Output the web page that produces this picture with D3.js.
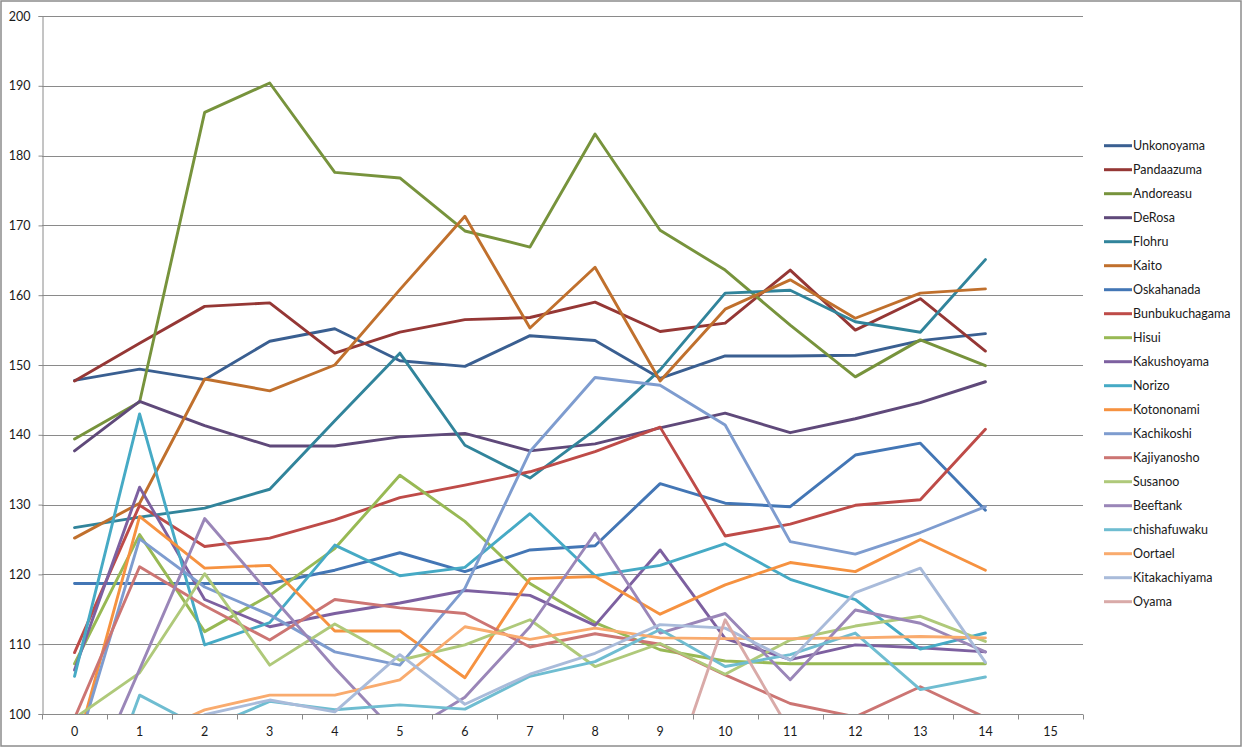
<!DOCTYPE html>
<html>
<head>
<meta charset="utf-8">
<script src="https://cdn.jsdelivr.net/npm/d3@7"></script>
<style>
html, body { margin: 0; padding: 0; background: #fff; }
svg { display: block; }
text { font-family: Lato, "Open Sans", "Liberation Sans", sans-serif; fill: #1a1a1a; }
</style>
</head>
<body>
<svg id="chart" width="1244" height="748"></svg>
<script>
// ---- data ----
const categories = ["0","1","2","3","4","5","6","7","8","9","10","11","12","13","14","15"];
const yTicks = [100,110,120,130,140,150,160,170,180,190,200];
const seriesNames = ["Unkonoyama","Pandaazuma","Andoreasu","DeRosa","Flohru","Kaito","Oskahanada","Bunbukuchagama","Hisui","Kakushoyama","Norizo","Kotononami","Kachikoshi","Kajiyanosho","Susanoo","Beeftank","chishafuwaku","Oortael","Kitakachiyama","Oyama"];
const seriesColors = ["#3a5f91","#953735","#77933c","#5f497a","#31849b","#c0702d","#4376b5","#be4b48","#98b954","#7d60a0","#46aac5","#f69240","#7e9ccf","#cc7573","#afc97a","#9a86b8","#6fbdd1","#f9ab6e","#a9bbda","#d9aaa8"];

const Unkonoyama     = [147.8,149.4,147.9,153.4,155.2,150.6,149.8,154.2,153.5,148.1,151.3,151.3,151.4,153.5,154.5];
const Pandaazuma     = [147.7,153.1,158.4,158.9,151.7,154.7,156.5,156.8,159.0,154.8,156.0,163.6,155.0,159.5,152.0];
const Andoreasu      = [139.4,144.7,186.2,190.4,177.6,176.8,169.2,166.9,183.1,169.3,163.6,155.7,148.3,153.6,149.9];
const DeRosa         = [137.7,144.8,141.3,138.4,138.4,139.7,140.2,137.7,138.7,141.0,143.1,140.3,142.3,144.6,147.6];
const Flohru         = [126.7,128.2,129.5,132.2,142.0,151.7,138.5,133.8,140.7,149.3,160.3,160.7,156.2,154.7,165.1];
const Kaito          = [125.2,130.2,148.0,146.3,150.0,160.8,171.3,155.3,164.0,147.7,158.0,162.2,156.7,160.3,160.9];
const Oskahanada     = [118.7,118.7,118.7,118.7,120.6,123.1,120.4,123.5,124.1,133.0,130.2,129.7,137.1,138.8,129.2];
const Bunbukuchagama = [108.8,129.9,124.0,125.2,127.8,131.0,132.8,134.7,137.6,141.1,125.5,127.2,129.9,130.7,140.8];
const Hisui          = [107.2,125.7,111.8,117.0,123.7,134.2,127.6,118.7,113.1,109.2,107.6,107.2,107.2,107.2,107.2];
const Kakushoyama    = [106.3,132.5,116.4,112.5,114.4,115.9,117.7,117.0,112.7,123.5,110.8,107.8,109.9,109.5,108.9];
const Norizo         = [105.4,143.0,109.9,113.1,124.2,119.8,121.0,128.7,119.8,121.3,124.4,119.3,116.4,109.3,111.6];
const Kotononami     = [94.2,128.3,120.9,121.3,111.9,111.9,105.2,119.4,119.7,114.3,118.5,121.7,120.4,125.0,120.6];
const Kachikoshi     = [93.9,125.1,118.2,114.2,108.9,107.0,118.0,137.6,148.2,147.1,141.4,124.7,122.9,126.0,129.7];
const Kajiyanosho    = [99.4,121.1,115.5,110.6,116.4,115.2,114.4,109.6,111.5,110.0,105.6,101.5,99.6,103.9,99.5];
const Susanoo        = [99.4,105.9,120.1,107.0,112.9,107.7,109.9,113.5,106.8,110.1,105.7,110.6,112.6,114.0,110.4];
const Beeftank       = [85.0,106.4,128.0,117.2,106.6,96.7,102.4,112.5,125.9,111.6,114.4,104.9,114.9,113.0,108.9];
const chishafuwaku   = [77.3,102.7,97.8,101.8,100.6,101.3,100.7,105.4,107.5,112.1,106.8,108.5,111.6,103.5,105.3];
const Oortael        = [95.0,96.4,100.6,102.7,102.7,104.9,112.5,110.7,112.3,110.9,110.8,110.8,110.9,111.1,110.9];
const Kitakachiyama  = [90.0,92.0,99.9,102.0,100.3,108.5,101.4,105.7,108.7,112.8,112.3,107.7,117.4,120.9,107.4];
const Oyama          = [85.0,85.0,85.0,85.0,85.0,85.0,85.0,85.0,85.0,86.3,113.5,97.5,85.0,85.0,85.0];

const seriesValues = [Unkonoyama,Pandaazuma,Andoreasu,DeRosa,Flohru,Kaito,Oskahanada,Bunbukuchagama,Hisui,Kakushoyama,Norizo,Kotononami,Kachikoshi,Kajiyanosho,Susanoo,Beeftank,chishafuwaku,Oortael,Kitakachiyama,Oyama];

// ---- layout ----
const svg = d3.select("#chart");
const plot = { left: 42, right: 1083, top: 16, bottom: 714 };
const fontSize = "12.5px";

// outer chart border
svg.append("rect").attr("x", 1).attr("y", 1).attr("width", 1240).attr("height", 745)
  .attr("fill", "#fff").attr("stroke", "#8c8c8c").attr("stroke-width", 1.5);

const x = d3.scaleBand().domain(categories).range([plot.left, plot.right]).paddingInner(0).paddingOuter(0);
const y = d3.scaleLinear().domain([100, 200]).range([plot.bottom, plot.top]);
const cx = i => x(categories[i]) + x.bandwidth() / 2;

// gridlines
svg.append("g").selectAll("line").data(yTicks).join("line")
  .attr("x1", plot.left).attr("x2", plot.right)
  .attr("y1", d => Math.round(y(d)) + 0.5).attr("y2", d => Math.round(y(d)) + 0.5)
  .attr("stroke", "#8a8a8a").attr("stroke-width", 1);

// y axis
const yAxis = svg.append("g").attr("transform", `translate(${plot.left + 0.5},0)`)
  .call(d3.axisLeft(y).tickValues(yTicks).tickSize(4).tickPadding(8).tickFormat(d3.format("d")));
yAxis.select(".domain").attr("stroke", "#8a8a8a");
yAxis.selectAll(".tick line").attr("stroke", "#8a8a8a");
yAxis.selectAll("text").attr("font-size", fontSize).attr("font-family", "Lato, 'Open Sans', sans-serif").attr("fill", "#1a1a1a");

// x axis (category axis, ticks between categories)
const xg = svg.append("g").attr("transform", `translate(0,${plot.bottom + 0.5})`);
xg.append("line").attr("x1", plot.left).attr("x2", plot.right).attr("stroke", "#8a8a8a");
const bounds = categories.map(c => x(c)).concat([plot.right]);
xg.selectAll("line.tk").data(bounds).join("line").attr("class", "tk")
  .attr("x1", d => Math.round(d) + 0.5).attr("x2", d => Math.round(d) + 0.5)
  .attr("y1", 0).attr("y2", 5).attr("stroke", "#8a8a8a");
xg.selectAll("text").data(categories).join("text")
  .attr("x", d => x(d) + x.bandwidth() / 2).attr("y", 21)
  .attr("text-anchor", "middle").attr("font-size", fontSize).text(d => d);

// clip
svg.append("defs").append("clipPath").attr("id", "plotclip").append("rect")
  .attr("x", plot.left).attr("y", plot.top - 5).attr("width", plot.right - plot.left).attr("height", plot.bottom - plot.top + 5);

const line = d3.line().x((d, i) => cx(i)).y(d => y(d));
const lines = svg.append("g").attr("clip-path", "url(#plotclip)");
seriesValues.forEach((vals, k) => {
  lines.append("path").datum(vals).attr("d", line)
    .attr("fill", "none").attr("stroke", seriesColors[k]).attr("stroke-width", 2.9)
    .attr("stroke-linejoin", "round").attr("stroke-linecap", "round");
});

// legend
const lg = svg.append("g");
seriesNames.forEach((n, k) => {
  const yy = 145.7 + k * 24.0;
  lg.append("line").attr("x1", 1104).attr("x2", 1132).attr("y1", yy).attr("y2", yy)
    .attr("stroke", seriesColors[k]).attr("stroke-width", 3);
  lg.append("text").attr("x", 1133).attr("y", yy + 4.5).attr("font-size", fontSize).text(n);
});
</script>
</body>
</html>
